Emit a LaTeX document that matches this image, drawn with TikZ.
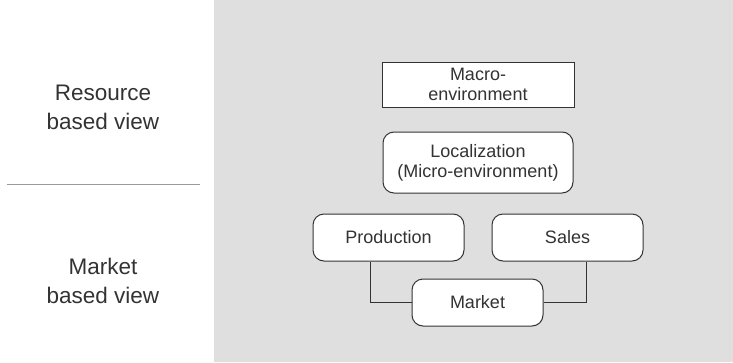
\documentclass[tikz,border=0pt]{standalone}
\usepackage{fontspec}
\setmainfont{Liberation Sans}
\begin{document}
\begin{tikzpicture}[x=1pt,y=-1pt,
  box/.style={draw=black!80,line width=1pt,fill=white,text=black!80,align=center,inner sep=0pt,font=\fontsize{18}{20}\selectfont},
  rbox/.style={box,rounded corners=11pt},
  conn/.style={draw=black!80,line width=1pt},
  side/.style={text=black!80,align=center,font=\fontsize{22.5}{29}\selectfont}]
\useasboundingbox (0,0) rectangle (733,362);
\fill[gray!25] (214,0) rectangle (733,362);
\node[box,minimum width=192pt,minimum height=45pt] (macro) at (478,84.5) {Macro-\\environment};
\node[rbox,minimum width=190pt,minimum height=61pt] (local) at (478,162.5) {Localization\\(Micro-environment)};
\node[rbox,minimum width=151pt,minimum height=47pt] (prod) at (388.5,237.5) {Production};
\node[rbox,minimum width=151pt,minimum height=47pt] (sales) at (567.5,237.5) {Sales};
\node[rbox,minimum width=131pt,minimum height=47pt] (market) at (477.5,302.5) {Market};
\draw[conn] (prod.south -| 370,0) |- (market.west);
\draw[conn] (sales.south -| 586,0) |- (market.east);
\node[side] (rbv) at (103,107) {Resource\\based view};
\node[side] (mbv) at (103,281) {Market\\based view};
\coordinate (sepl) at (7,184);
\coordinate (sepr) at (200,184);
\draw[gray!80,line width=0.8pt] (sepl) -- (sepr);
\end{tikzpicture}
\end{document}
